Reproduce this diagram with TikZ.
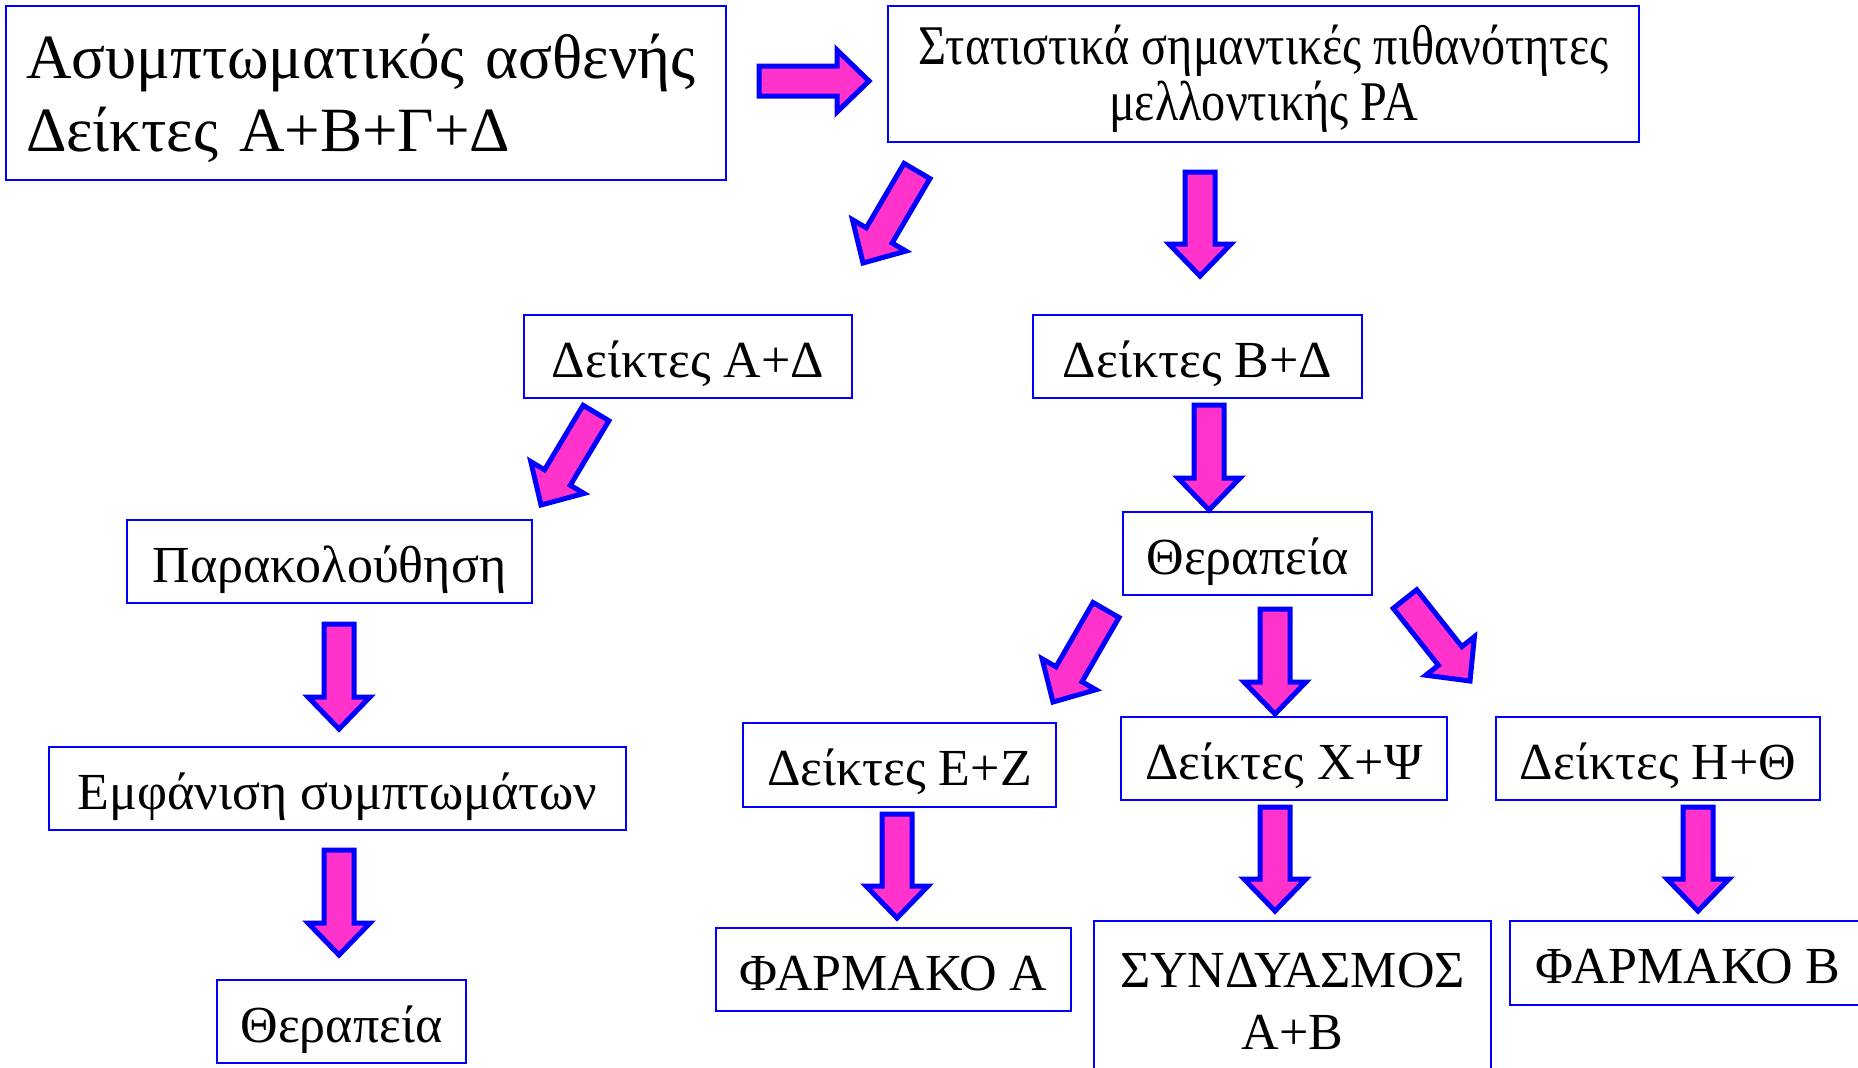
\documentclass[tikz,border=0pt]{standalone}
\usepackage{fontspec}
\setmainfont{Liberation Serif}
\newfontfamily\narrowserif[FakeStretch=0.86]{Liberation Serif}
\usetikzlibrary{calc}
\definecolor{arrowfill}{RGB}{255,51,204}
\definecolor{edgeblue}{RGB}{0,0,255}
\tikzset{
  box/.style={draw=edgeblue, line width=2pt, rectangle, inner sep=0pt,
    align=center, font=\fontsize{52}{62}\selectfont},
  oneline/.style={box, text height=53pt, text depth=12pt},
  barrow/.style={draw=edgeblue, fill=arrowfill, line width=5pt, line join=miter},
}
% block arrow from tail #1 to tip #2
\newcommand\blockarrow[2]{%
  \coordinate (hb) at ($(#2)!32pt!(#1)$);
  \draw[barrow] ($(#1)!15pt!90:(#2)$) -- ($(hb)!15pt!90:(#2)$)
    -- ($(hb)!31pt!90:(#2)$) -- (#2) -- ($(hb)!31pt!-90:(#2)$)
    -- ($(hb)!15pt!-90:(#2)$) -- ($(#1)!15pt!-90:(#2)$) -- cycle;}
\begin{document}
\begin{tikzpicture}[x=1pt,y=-1pt]
\useasboundingbox (0,0) rectangle (1858,1068);
\clip (0,0) rectangle (1858,1068);

% boxes
\node[box, minimum width=720pt, minimum height=174pt, text width=680pt,
  align=left, font=\fontsize{63}{73}\selectfont,
  text height=58pt, text depth=87pt] (start) at (366,93)
  {Ασυμπτωματικός ασθενής\\Δείκτες Α+Β+Γ+Δ};
\node[box, minimum width=751pt, minimum height=136pt,
  font=\narrowserif\fontsize{56}{56}\selectfont,
  text height=104pt, text depth=12pt] (prob) at (1263.5,74)
  {Στατιστικά σημαντικές πιθανότητες\\μελλοντικής ΡΑ};
\node[oneline, minimum width=328pt, minimum height=83pt] (ad) at (688,356.5) {Δείκτες Α+Δ};
\node[oneline, minimum width=329pt, minimum height=83pt] (bd) at (1197.5,356.5) {Δείκτες Β+Δ};
\node[oneline, minimum width=405pt, minimum height=83pt] (watch) at (329.5,561.5) {Παρακολούθηση};
\node[oneline, minimum width=249pt, minimum height=83pt] (therm) at (1247.5,553.5) {Θεραπεία};
\node[oneline, minimum width=577pt, minimum height=83pt] (symp) at (337.5,788.5) {Εμφάνιση συμπτωμάτων};
\node[oneline, minimum width=313pt, minimum height=84pt] (ez) at (899.5,765) {Δείκτες Ε+Ζ};
\node[oneline, minimum width=326pt, minimum height=83pt] (xy) at (1284,758.5) {Δείκτες Χ+Ψ};
\node[oneline, minimum width=324pt, minimum height=83pt] (ht) at (1658,758.5) {Δείκτες Η+Θ};
\node[oneline, minimum width=249pt, minimum height=83pt] (therl) at (341.5,1021.5) {Θεραπεία};
\node[oneline, minimum width=355pt, minimum height=83pt] (druga) at (893.5,969.5) {ΦΑΡΜΑΚΟ Α};
\node[box, minimum width=397pt, minimum height=156pt,
  text height=112pt, text depth=12pt] (combo) at (1292.5,999) {ΣΥΝΔΥΑΣΜΟΣ\\Α+Β};
\node[oneline, minimum width=356pt, minimum height=84pt] (drugb) at (1688,963) {ΦΑΡΜΑΚΟ Β};

% arrow ends
\coordinate (t1) at (759,81);    \coordinate (p1) at (869,81);
\coordinate (t2) at (917,171);   \coordinate (p2) at (863,263);
\coordinate (t3) at (1200,172);  \coordinate (p3) at (1200,276);
\coordinate (t4) at (596,413);   \coordinate (p4) at (541,505);
\coordinate (t5) at (1209,405);  \coordinate (p5) at (1209,510);
\coordinate (t6) at (339,624);   \coordinate (p6) at (339,729);
\coordinate (t7) at (339,850);   \coordinate (p7) at (339,955);
\coordinate (t8) at (1106,610);  \coordinate (p8) at (1053,702);
\coordinate (t9) at (1275,609);  \coordinate (p9) at (1275,714);
\coordinate (t10) at (1405,599); \coordinate (p10) at (1470,681);
\coordinate (t11) at (897,814);  \coordinate (p11) at (897,918);
\coordinate (t12) at (1275,807); \coordinate (p12) at (1275,911);
\coordinate (t13) at (1698,807); \coordinate (p13) at (1698,911);

\blockarrow{t1}{p1}
\blockarrow{t2}{p2}
\blockarrow{t3}{p3}
\blockarrow{t4}{p4}
\blockarrow{t5}{p5}
\blockarrow{t6}{p6}
\blockarrow{t7}{p7}
\blockarrow{t8}{p8}
\blockarrow{t9}{p9}
\blockarrow{t10}{p10}
\blockarrow{t11}{p11}
\blockarrow{t12}{p12}
\blockarrow{t13}{p13}
\end{tikzpicture}
\end{document}
